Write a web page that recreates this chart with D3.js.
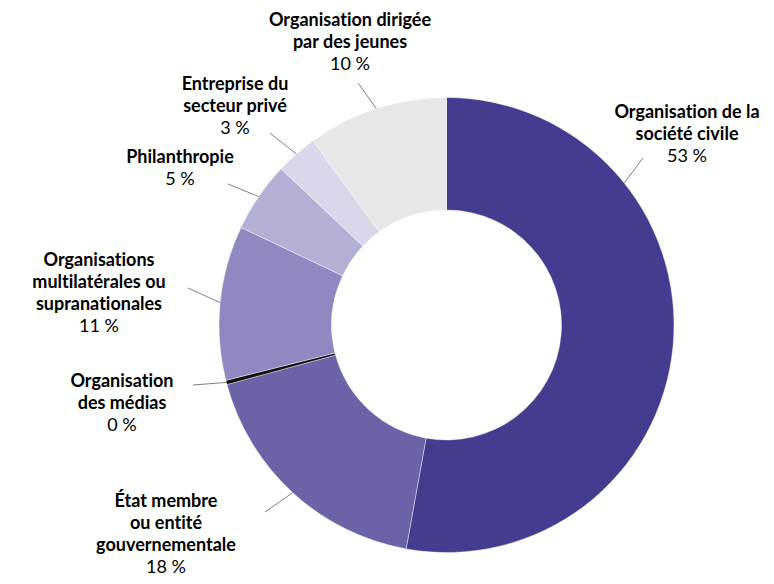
<!DOCTYPE html>
<html lang="fr">
<head>
<meta charset="utf-8">
<script src="https://cdn.jsdelivr.net/npm/d3@7"></script>
<style>
  html, body { margin: 0; padding: 0; background: #fff; }
  svg { display: block; }
  text { font-variant-ligatures: none; font-feature-settings: "liga" 0, "clig" 0; }
  .name { font-family: Lato, "Open Sans", sans-serif; font-weight: 700; font-size: 18px; fill: #000; }
  .pct { font-family: Lato, "Open Sans", sans-serif; font-weight: 400; font-size: 18px; fill: #000; }
</style>
</head>
<body>
<svg id="chart" width="774" height="584"></svg>
<script>
// Répartition des répondants par type d'organisation (en %)
const categories = [
  "Organisation de la société civile",
  "État membre ou entité gouvernementale",
  "Organisation des médias",
  "Organisations multilatérales ou supranationales",
  "Philanthropie",
  "Entreprise du secteur privé",
  "Organisation dirigée par des jeunes"
];
const shares = [53, 18, 0.3, 11, 5, 3, 10];
const labelLines = [
  ["Organisation de la", "société civile"],
  ["État membre", "ou entité", "gouvernementale"],
  ["Organisation", "des médias"],
  ["Organisations", "multilatérales ou", "supranationales"],
  ["Philanthropie"],
  ["Entreprise du", "secteur privé"],
  ["Organisation dirigée", "par des jeunes"]
];
const sliceColors = ["#443d8f", "#6a63a8", "#111111", "#8e8ac1", "#b2b0d5", "#dad7ea", "#e6e7e8"];

// Placement of each label block: centre x, first baseline y, leader start,
// and (optionally) the fraction of the slice where the leader meets the ring.
const labelLayout = [
  { x: 687, y: 118, lx: 643, ly: 158, at: 0.27 },
  { x: 166, y: 507, lx: 265, ly: 512 },
  { x: 122, y: 387, lx: 193, ly: 385 },
  { x: 99,  y: 266, lx: 188, ly: 288 },
  { x: 180, y: 163, lx: 228, ly: 184 },
  { x: 235, y: 90,  lx: 270, ly: 133 },
  { x: 350, y: 26,  lx: 358, ly: 83 }
];

const cx = 446.5, cy = 325, outerR = 227.5, innerR = 115, lineH = 22;

const svg = d3.select("#chart");
const g = svg.append("g").attr("transform", `translate(${cx},${cy})`);

const data = categories.map((c, i) => ({ name: c, value: shares[i], i }));
const pie = d3.pie().value(d => d.value).sort(null);
const arc = d3.arc().innerRadius(innerR).outerRadius(outerR);
const arcs = pie(data);

g.selectAll("path.slice")
  .data(arcs)
  .join("path")
  .attr("class", "slice")
  .attr("d", arc)
  .attr("fill", d => sliceColors[d.data.i])
  .attr("stroke", "#fff")
  .attr("stroke-width", 0.4);

// Leader lines from each label to the outer edge of its slice
g.selectAll("line.leader")
  .data(arcs)
  .join("line")
  .attr("class", "leader")
  .each(function (d) {
    const lay = labelLayout[d.data.i];
    const t = lay.at != null ? lay.at : 0.5;
    const a = d.startAngle + (d.endAngle - d.startAngle) * t;
    d3.select(this)
      .attr("x1", lay.lx - cx).attr("y1", lay.ly - cy)
      .attr("x2", Math.sin(a) * outerR).attr("y2", -Math.cos(a) * outerR);
  })
  .attr("stroke", "#6f6f6f")
  .attr("stroke-width", 0.9);

// Label blocks: bold name lines followed by the rounded share
const labels = svg.selectAll("text.lbl")
  .data(data)
  .join("text")
  .attr("class", "lbl")
  .attr("text-anchor", "middle");

labels.each(function (d) {
  const lay = labelLayout[d.i];
  const t = d3.select(this);
  const lines = labelLines[d.i];
  lines.forEach((ln, k) => {
    t.append("tspan").attr("class", "name")
      .attr("x", lay.x).attr("y", lay.y + k * lineH).text(ln);
  });
  t.append("tspan").attr("class", "pct")
    .attr("x", lay.x).attr("y", lay.y + lines.length * lineH)
    .text(Math.round(d.value) + "\u00a0%");
});
</script>
</body>
</html>
